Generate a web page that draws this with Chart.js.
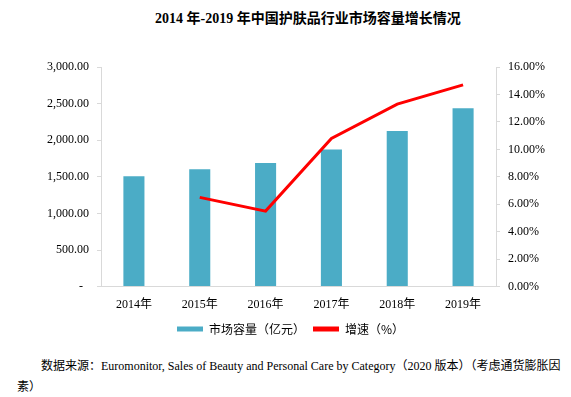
<!DOCTYPE html>
<html>
<head>
<meta charset="utf-8">
<script src="https://cdn.jsdelivr.net/npm/chart.js"></script>
<style>
  body { margin: 0; background: #fff; width: 571px; height: 397px; overflow: hidden; position: relative; }
  #titulo { position: absolute; top: 7px; left: 155px; white-space: nowrap;
    font: bold 14px "Liberation Serif", "Noto Sans CJK SC", serif; color: #000; }
  #grafico { position: absolute; top: 0; left: 0; width: 571px; height: 345px; }
  #fuente { position: absolute; top: 356px; left: 17px; width: 553px; margin: 0;
    text-indent: 24px; font: 12px/21px "Liberation Serif", "Noto Sans CJK SC", serif; color: #000; }
</style>
</head>
<body>
<div id="titulo">2014 年-2019 年中国护肤品行业市场容量增长情况</div>
<div id="grafico"><canvas id="c"></canvas></div>
<p id="fuente">数据来源：Euromonitor, Sales of Beauty and Personal Care by Category（2020 版本）（考虑通货膨胀因素）</p>
<script>
// Datos
const anios = ['2014年', '2015年', '2016年', '2017年', '2018年', '2019年'];
const mercado = [1507, 1604, 1690, 1873, 2124, 2436];      // 亿元
const crecimiento = [null, 6.5, 5.5, 10.8, 13.3, 14.7];    // %
const ticksIzq = [0, 500, 1000, 1500, 2000, 2500, 3000];
const ticksDer = [0, 2, 4, 6, 8, 10, 12, 14, 16];

const azul = '#4BACC6';
const rojo = '#FF0000';
const gris = '#D9D9D9';
const fuenteTicks = { family: '"Liberation Serif", "Noto Sans CJK SC", serif', size: 12 };

new Chart(document.getElementById('c'), {
  data: {
    labels: anios,
    datasets: [
      {
        type: 'line',
        label: '增速（%）',
        data: crecimiento,
        yAxisID: 'y2',
        borderColor: rojo,
        backgroundColor: rojo,
        borderWidth: 3,
        pointRadius: 0,
        tension: 0,
        order: 0
      },
      {
        type: 'bar',
        label: '市场容量（亿元）',
        data: mercado,
        yAxisID: 'y',
        backgroundColor: azul,
        barPercentage: 0.32,
        categoryPercentage: 1,
        order: 1
      }
    ]
  },
  options: {
    responsive: true,
    maintainAspectRatio: false,
    animation: false,
    layout: { padding: { top: 67, left: 10, right: 0, bottom: 0 } },
    plugins: {
      title: { display: false },
      tooltip: { enabled: false },
      legend: {
        position: 'bottom',
        reverse: true,
        labels: {
          color: '#000',
          font: { family: '"Noto Sans CJK SC", sans-serif', size: 12 },
          boxWidth: 26,
          boxHeight: 5,
          padding: 8,
          generateLabels: chart => chart.data.datasets.map((ds, i) => ({
            text: ds.label,
            fillStyle: ds.type === 'bar' ? azul : rojo,
            strokeStyle: 'transparent',
            lineWidth: 0,
            datasetIndex: i
          }))
        }
      }
    },
    scales: {
      x: {
        grid: { display: false },
        border: { display: true, color: gris },
        ticks: { color: '#000', font: fuenteTicks, padding: 3 }
      },
      y: {
        position: 'left',
        min: 0,
        max: 3000,
        afterBuildTicks: s => { s.ticks = ticksIzq.map(v => ({ value: v })); },
        afterFit: s => { s.width = 91; },
        grid: { drawOnChartArea: false, drawTicks: true, tickLength: 4, color: gris },
        border: { display: true, color: gris },
        ticks: {
          color: '#000',
          font: fuenteTicks,
          padding: 8,
          callback: v => v === 0 ? '-  ' : v.toLocaleString('en-US', { minimumFractionDigits: 2, maximumFractionDigits: 2 })
        }
      },
      y2: {
        position: 'right',
        min: 0,
        max: 16,
        afterBuildTicks: s => { s.ticks = ticksDer.map(v => ({ value: v })); },
        afterFit: s => { s.width = 75; },
        grid: { drawOnChartArea: false, drawTicks: true, tickLength: 4, color: gris },
        border: { display: true, color: gris },
        ticks: {
          color: '#000',
          font: fuenteTicks,
          padding: 8,
          callback: v => v.toFixed(2) + '%'
        }
      }
    }
  }
});
</script>
</body>
</html>
